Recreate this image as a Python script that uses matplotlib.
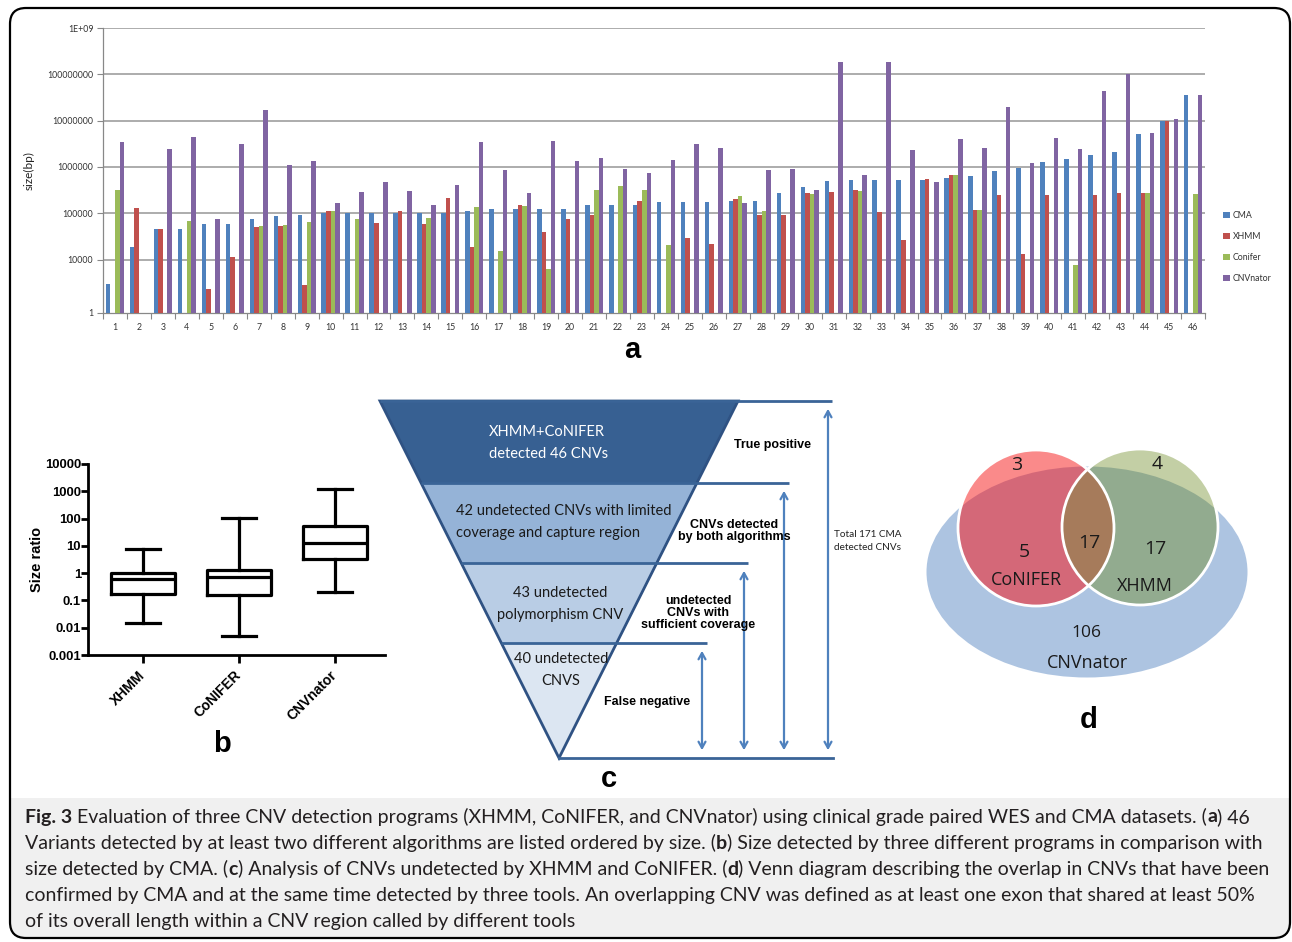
import numpy as np
import matplotlib
matplotlib.use("Agg")
import matplotlib.pyplot as plt
from matplotlib import ticker
from matplotlib.patches import Polygon, Circle, Ellipse, FancyBboxPatch, Rectangle, Patch

nan = np.nan

# ---------------- data: panel a (variant sizes, bp) ----------------
variants = list(range(1, 47))
cma = [3000, 19000, 45000, 45000, 58000, 58000, 77000, 86000, 94000, 100000,
       100000, 100000, 100000, 100000, 100000, 110000, 124000, 124000, 124000, 124000,
       151000, 151000, 151000, 173000, 173000, 179000, 188000, 188000, 270000, 370000,
       507000, 525000, 525000, 525000, 525000, 590000, 640000, 808000, 968000, 1260000,
       1490000, 1810000, 2140000, 5100000, 10000000, 36000000]
xhmm = [nan, 128000, 45000, nan, 2300, 11500, 51000, 53000, 2800, 114000,
        nan, 63000, 110000, 60000, 211000, 19000, nan, 151000, 40000, 74000,
        90000, nan, 185000, nan, 30000, 22000, 204000, 94000, 90000, 270000,
        288000, 325000, 105000, 27000, 550000, 673000, 118000, 253000, 13500, 253000,
        nan, 253000, 279000, 279000, 10000000, nan]
conifer = [325000, nan, nan, 70000, nan, nan, 53000, 55000, 66000, 110000,
           74000, nan, nan, 79000, nan, 135000, 15500, 144000, 6200, nan,
           325000, 383000, 314000, 21000, nan, nan, 237000, 114000, nan, 257000,
           nan, 298000, nan, nan, nan, 673000, 118000, nan, nan, nan,
           7600, nan, nan, 279000, nan, 266000]
cnvnator = [3.5e6, nan, 2.45e6, 4.4e6, 74000, 3.2e6, 1.67e7, 1.1e6, 1.37e6, 164000,
            288000, 480000, 303000, 151000, 416000, 3.46e6, 850000, 279000, 3.6e6, 1.33e6,
            1.57e6, 921000, 755000, 1.4e6, 3.2e6, 2.57e6, 164000, 865000, 921000, 325000,
            1.87e8, 673000, 1.87e8, 2.33e6, 467000, 4.1e6, 2.53e6, 1.97e7, 1.22e6, 4.27e6,
            2.4e6, 4.45e7, 1.0e8, 5.3e6, 1.07e7, 3.6e7]
series_names = ["CMA", "XHMM", "Conifer", "CNVnator"]
series_values = [cma, xhmm, conifer, cnvnator]
series_colors = ["#4f81bd", "#c0504d", "#9bbb59", "#8064a2"]
y_tick_labels = ["1", "10000", "100000", "1000000", "10000000", "100000000", "1E+09"]

# ---------------- data: panel b (size ratio vs CMA) ----------------
programs = ["XHMM", "CoNIFER", "CNVnator"]
ratio_whislo = [0.0145, 0.0051, 0.21]
ratio_q1 = [0.17, 0.155, 3.3]
ratio_med = [0.6, 0.74, 12.4]
ratio_q3 = [1.0, 1.3, 54]
ratio_whishi = [7.5, 105, 1180]

# ---------------- data: panel c (funnel) ----------------
funnel_text = ["XHMM+CoNIFER\ndetected 46 CNVs",
               "42 undetected CNVs with limited\ncoverage and capture region",
               "43 undetected\npolymorphism CNV",
               "40 undetected\nCNVS"]
funnel_colors = ["#376092", "#95b3d7", "#b9cde5", "#dce6f2"]
funnel_side = ["True positive", "CNVs detected\nby both algorithms",
               "undetected\nCNVs with\nsufficient coverage", "False negative"]

# ---------------- data: panel d (Venn counts) ----------------
venn_counts = {"conifer_only": 3, "xhmm_only": 4, "conifer_cnv": 5,
               "all": 17, "xhmm_cnv": 17, "cnvnator": 106}

W, H = 1292, 942
fig = plt.figure(figsize=(W / 100, H / 100), dpi=100)

# Full-figure canvas in pixel units for diagrams, labels and caption
ax0 = fig.add_axes([0, 0, 1, 1], zorder=0)
ax0.set_xlim(0, W)
ax0.set_ylim(H, 0)
ax0.axis("off")

# Rounded frame and caption background
frame = FancyBboxPatch((10, 8), 1280, 930, boxstyle="round,pad=0,rounding_size=16",
                       fc="none", ec="black", lw=1.6, zorder=5)
ax0.add_patch(frame)
cap_bg = Rectangle((10, 798), 1280, 140, fc="#f0f0f0", ec="none", zorder=0.5)
ax0.add_patch(cap_bg)
clipper = FancyBboxPatch((10, 8), 1280, 930, boxstyle="round,pad=0,rounding_size=16",
                         fc="none", ec="none", transform=ax0.transData)
cap_bg.set_clip_path(clipper)


def fig_rect(x0, y0, x1, y1):
    return [x0 / W, 1 - y1 / H, (x1 - x0) / W, (y1 - y0) / H]


# ---------------- panel a ----------------
axa = fig.add_axes(fig_rect(103, 28, 1205, 313), zorder=2)
axa.set_facecolor("none")
ymin = 10 ** (4 - 160 / 139)
bw = 0.19
x = np.array(variants, dtype=float)
handles = []
for k, (name, vals, col) in enumerate(zip(series_names, series_values, series_colors)):
    v = np.array(vals, dtype=float)
    m = ~np.isnan(v)
    axa.bar(x[m] + (k - 1.5) * bw, v[m] - ymin, bottom=ymin, width=bw,
            color=col, edgecolor="none", zorder=3)
    handles.append(Patch(facecolor=col, edgecolor="none", label=name))
axa.set_yscale("log")
axa.set_ylim(ymin, 1e9)
axa.set_xlim(0.5, 46.5)
yt = [ymin, 1e4, 1e5, 1e6, 1e7, 1e8, 1e9]
axa.yaxis.set_major_locator(ticker.FixedLocator(yt))
axa.yaxis.set_major_formatter(ticker.FixedFormatter(y_tick_labels))
axa.yaxis.set_minor_locator(ticker.NullLocator())
for yv in yt[1:]:
    axa.axhline(yv, color="#a6a6a6", lw=1.3, zorder=1)
axa.set_xticks(x)
axa.set_xticklabels([str(i) for i in variants])
axa.set_xticks(np.arange(0.5, 47, 1), minor=True)
axa.tick_params(axis="x", which="major", length=0, pad=7, labelsize=6.3, labelcolor="#333333")
axa.tick_params(axis="x", which="minor", length=4, color="#888888", width=0.8)
axa.tick_params(axis="y", which="major", length=4, color="#888888", width=0.8,
                labelsize=6.3, labelcolor="#333333", pad=3)
for lab in axa.get_xticklabels() + axa.get_yticklabels():
    lab.set_family("Lato")
for s in ["top", "right"]:
    axa.spines[s].set_visible(False)
for s in ["left", "bottom"]:
    axa.spines[s].set_color("#888888")
    axa.spines[s].set_linewidth(0.9)
axa.set_ylabel("size(bp)", family="Lato", fontsize=8.5, color="#222222")
axa.yaxis.set_label_coords(-0.062, 0.5)
axa.legend(handles=handles, loc="upper left", bbox_to_anchor=(1219 / W, 1 - 207 / H),
           bbox_transform=fig.transFigure, frameon=False, prop={"family": "Lato", "size": 6.3},
           handlelength=0.7, handleheight=0.7, handletextpad=0.35, labelspacing=1.35,
           borderpad=0, labelcolor="#333333")

# ---------------- panel b ----------------
axb = fig.add_axes(fig_rect(88, 464, 385, 655), zorder=2)
axb.set_facecolor("none")
stats = []
for i, p in enumerate(programs):
    stats.append({"label": p, "whislo": ratio_whislo[i], "q1": ratio_q1[i],
                  "med": ratio_med[i], "q3": ratio_q3[i], "whishi": ratio_whishi[i],
                  "fliers": []})
lwb = 2.3
axb.bxp(stats, positions=[1, 2, 3], widths=0.67, capwidths=0.35, showfliers=False,
        boxprops=dict(lw=lwb, color="black"), medianprops=dict(lw=lwb, color="black"),
        whiskerprops=dict(lw=lwb, color="black"), capprops=dict(lw=lwb, color="black"))
axb.set_yscale("log")
axb.set_ylim(0.001, 10000)
axb.set_xlim(1 - 55 / 96, 3 + 50 / 96)
axb.yaxis.set_major_locator(ticker.FixedLocator([10.0 ** e for e in range(-3, 5)]))
axb.yaxis.set_major_formatter(ticker.FuncFormatter(lambda v, _: f"{v:g}"))
axb.yaxis.set_minor_locator(ticker.NullLocator())
axb.set_xticks([1, 2, 3])
axb.set_xticklabels(programs, rotation=45, ha="right", va="center", rotation_mode="anchor")
for s in ["top", "right"]:
    axb.spines[s].set_visible(False)
for s in ["left", "bottom"]:
    axb.spines[s].set_linewidth(2)
axb.tick_params(axis="y", width=2, length=5, labelsize=9.4, pad=0)
axb.tick_params(axis="x", width=2, length=6, labelsize=10, pad=7)
for lab in axb.get_xticklabels() + axb.get_yticklabels():
    lab.set_family("Liberation Sans")
    lab.set_fontweight("bold")
axb.set_ylabel("Size ratio", family="Liberation Sans", fontweight="bold", fontsize=10.5)
axb.yaxis.set_label_coords(-44 / 297, 0.5)

# ---------------- panel c: funnel ----------------
top_y, apex_y = 401, 758
cx, half_top = 559, 179
bounds = [401, 483, 563, 643, 758]


def half_w(y):
    return half_top * (apex_y - y) / (apex_y - top_y)


line_col = "#3a6497"
arrow_col = "#4f81bd"
for i in range(4):
    y0, y1 = bounds[i], bounds[i + 1]
    pts = [(cx - half_w(y0), y0), (cx + half_w(y0), y0),
           (cx + half_w(y1), y1), (cx - half_w(y1), y1)]
    ax0.add_patch(Polygon(pts, closed=True, fc=funnel_colors[i], ec="none", zorder=2))
ax0.add_patch(Polygon([(cx - half_top, top_y), (cx + half_top, top_y), (cx, apex_y)],
                      closed=True, fc="none", ec="#2f5283", lw=2, zorder=3))

line_ends = [832, 789, 748, 707]
for i, yb in enumerate(bounds[:4]):
    ax0.plot([cx - half_w(yb), line_ends[i]], [yb, yb], color=line_col, lw=2, zorder=3,
             solid_capstyle="butt")
ax0.plot([cx, 833], [apex_y, apex_y], color=line_col, lw=2, zorder=3)

arrow_x = [828, 784, 744, 702]
for i, xa in enumerate(arrow_x):
    ax0.annotate("", xy=(xa, bounds[i] + 5), xytext=(xa, apex_y - 5),
                 arrowprops=dict(arrowstyle="<->,head_length=0.45,head_width=0.25",
                                 color=arrow_col, lw=1.6), zorder=3)

# (x, y, horizontal alignment) of the text inside each band
ftxt_pos = [(489, 443, "left"), (456, 522, "left"), (560, 604, "center"), (561, 670, "center")]
for i, (tx, ty, ha) in enumerate(ftxt_pos):
    ax0.text(tx, ty, funnel_text[i], ha=ha, va="center", multialignment=ha, family="Lato",
             fontsize=10.5, color="white" if i == 0 else "#1a1a1a", linespacing=1.7, zorder=4)

side_pos = [(772, 445), (734, 531), (698, 613), (647, 702)]
for (tx, ty), s in zip(side_pos, funnel_side):
    ax0.text(tx, ty, s, ha="center", va="center", family="Liberation Sans",
             fontweight="bold", fontsize=9, linespacing=1.05, zorder=4)
ax0.text(834, 541, "Total 171 CMA\ndetected CNVs", ha="left", va="center",
         family="Lato", fontsize=7.2, linespacing=1.7, color="#222222", zorder=4)

# ---------------- panel d: Venn ----------------
ell = Ellipse((1087, 572), 321, 211, fc="#adc4e1", ec="none", zorder=2)
ax0.add_patch(ell)
rc, gc, rad = (1036, 528), (1140, 527), 78
red_clip = Circle(rc, rad, transform=ax0.transData)

ax0.add_patch(Circle(rc, rad, fc="#fa8a8a", ec="none", zorder=3))
p = Circle(rc, rad, fc="#d46878", ec="none", zorder=3.1)
ax0.add_patch(p)
p.set_clip_path(Ellipse((1087, 572), 321, 211, transform=ax0.transData))
ax0.add_patch(Circle(gc, rad, fc="#c3cfa5", ec="none", zorder=3.2))
p = Circle(gc, rad, fc="#92ab8f", ec="none", zorder=3.3)
ax0.add_patch(p)
p.set_clip_path(Ellipse((1087, 572), 321, 211, transform=ax0.transData))
p = Circle(gc, rad, fc="#a67b5b", ec="none", zorder=3.4)
ax0.add_patch(p)
p.set_clip_path(red_clip)
ax0.add_patch(Circle(rc, rad, fc="none", ec="white", lw=2, zorder=3.5))
ax0.add_patch(Circle(gc, rad, fc="none", ec="white", lw=2, zorder=3.5))

vfont = dict(family="Open Sans", color="#1a1a1a", ha="center", va="center", zorder=4)
ax0.text(1017, 465, str(venn_counts["conifer_only"]), fontsize=14, **vfont)
ax0.text(1157, 464, str(venn_counts["xhmm_only"]), fontsize=14, **vfont)
ax0.text(1024, 552, str(venn_counts["conifer_cnv"]), fontsize=14, **vfont)
ax0.text(1089, 543, str(venn_counts["all"]), fontsize=14, **vfont)
ax0.text(1155, 549, str(venn_counts["xhmm_cnv"]), fontsize=14, **vfont)
ax0.text(1086, 633, str(venn_counts["cnvnator"]), fontsize=12.5, **vfont)
ax0.text(1026, 580, "CoNIFER", fontsize=13, **vfont)
ax0.text(1145, 586, "XHMM", fontsize=13, **vfont)
ax0.text(1087, 663, "CNVnator", fontsize=13, **vfont)

# ---------------- panel letters ----------------
for letter, (lx, ly) in zip("abcd", [(632, 350), (222, 744), (609, 779), (1089, 720)]):
    ax0.text(lx, ly, letter, ha="center", va="center", family="Liberation Sans",
             fontweight="bold", fontsize=21, zorder=4)

# ---------------- caption ----------------
CAP_FONT, CAP_FS, CAP_W = "Lato", 14.0, "normal"
renderer = fig.canvas.get_renderer()


def seg_width(s, weight):
    t1 = ax0.text(0, 0, "|" + s + "|", family=CAP_FONT, fontsize=CAP_FS, fontweight=weight)
    t2 = ax0.text(0, 0, "||", family=CAP_FONT, fontsize=CAP_FS, fontweight=weight)
    w = t1.get_window_extent(renderer).width - t2.get_window_extent(renderer).width
    t1.remove()
    t2.remove()
    return w


caption = [
    [("Fig. 3", "bold"), (" Evaluation of three CNV detection programs (XHMM, CoNIFER, and CNVnator) "
                          "using clinical grade paired WES and CMA datasets. (", CAP_W),
     ("a", "bold"), (") 46", CAP_W)],
    [("Variants detected by at least two different algorithms are listed ordered by size. (", CAP_W),
     ("b", "bold"), (") Size detected by three different programs in comparison with", CAP_W)],
    [("size detected by CMA. (", CAP_W), ("c", "bold"),
     (") Analysis of CNVs undetected by XHMM and CoNIFER. (", CAP_W), ("d", "bold"),
     (") Venn diagram describing the overlap in CNVs that have been", CAP_W)],
    [("confirmed by CMA and at the same time detected by three tools. An overlapping CNV was "
      "defined as at least one exon that shared at least 50%", CAP_W)],
    [("of its overall length within a CNV region called by different tools", CAP_W)],
]
for li, line in enumerate(caption):
    xc = 25
    yc = 817 + li * 26.2
    for s, wt in line:
        ax0.text(xc, yc, s, family=CAP_FONT, fontsize=CAP_FS, fontweight=wt,
                 ha="left", va="center", color="#231f20", zorder=4)
        xc += seg_width(s, wt)

fig.savefig("out.png", dpi=100)
